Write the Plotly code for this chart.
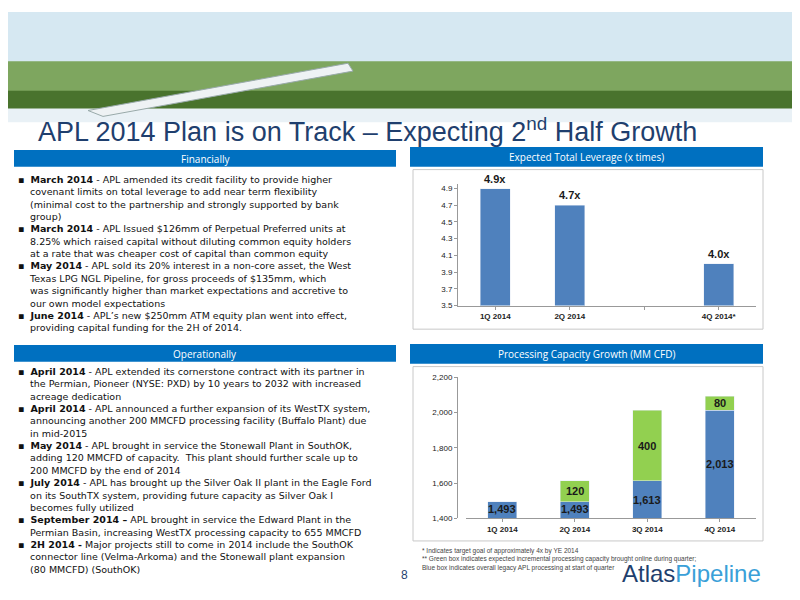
import plotly.graph_objects as go

lev_cats = ["1Q 2014", "2Q 2014", " ", "4Q 2014*"]
lev_vals = [4.9, 4.7, None, 4.0]
lev_labels = ["4.9x", "4.7x", "", "4.0x"]

cap_cats = ["1Q 2014", "2Q 2014", "3Q 2014", "4Q 2014"]
cap_base = [1493, 1493, 1613, 2013]
cap_incr = [0, 120, 400, 80]

W, H = 800, 600
def px(x): return x / W
def py(y): return 1 - y / H

BLUE = "#4f81bd"
GREEN = "#92d050"
HDR = "#0070c0"

fig = go.Figure()
fig.add_trace(go.Bar(x=lev_cats, y=lev_vals, marker_color=BLUE, width=0.4,
                     xaxis="x", yaxis="y", showlegend=False))
fig.add_trace(go.Bar(x=cap_cats, y=cap_base, marker_color=BLUE, width=0.4,
                     xaxis="x2", yaxis="y2", showlegend=False))
fig.add_trace(go.Bar(x=cap_cats, y=[v if v else None for v in cap_incr], marker_color=GREEN, width=0.4,
                     xaxis="x2", yaxis="y2", showlegend=False))

axfont = dict(size=8, color="#222", family="Liberation Sans")
fig.update_layout(
    width=W, height=H, margin=dict(l=0, r=0, t=0, b=0),
    paper_bgcolor="white", plot_bgcolor="white", barmode="stack",
    font=dict(family="Liberation Sans"),
    xaxis=dict(domain=[px(450), px(748)], anchor="y", tickfont=axfont, tickprefix="<b>", ticksuffix="</b>",
               showline=True, linecolor="#999", ticks="outside", ticklen=3, tickcolor="#999"),
    yaxis=dict(domain=[py(298), py(175)], range=[3.5, 4.95], tickvals=[3.5,3.7,3.9,4.1,4.3,4.5,4.7,4.9],
               tickformat=".1f", tickfont=axfont, tickprefix="<b>", ticksuffix="</b>", showgrid=False, showline=True, linecolor="#999",
               ticks="outside", ticklen=3, tickcolor="#999"),
    xaxis2=dict(domain=[px(458), px(748)], anchor="y2", tickfont=axfont, tickprefix="<b>", ticksuffix="</b>",
                showline=True, linecolor="#999", ticks="outside", ticklen=3, tickcolor="#999"),
    yaxis2=dict(domain=[py(514), py(371)], range=[1400, 2200], tickvals=[1400,1600,1800,2000,2200],
                tickformat=",", tickfont=axfont, tickprefix="<b>", ticksuffix="</b>", showgrid=False, showline=True, linecolor="#999",
                ticks="outside", ticklen=3, tickcolor="#999"),
)

shapes = []
shapes.append(dict(type="rect", xref="paper", yref="paper", x0=0, x1=1, y0=py(100), y1=1,
                   fillcolor="#d6e8f2", line_width=0, layer="below"))
shapes.append(dict(type="rect", xref="paper", yref="paper", x0=0, x1=1, y0=py(100), y1=py(50),
                   fillcolor="#6f9a45", line_width=0, layer="below", opacity=0.85))
shapes.append(dict(type="rect", xref="paper", yref="paper", x0=0, x1=1, y0=py(100), y1=py(80),
                   fillcolor="#3f6a25", line_width=0, layer="below", opacity=0.85))
shapes.append(dict(type="rect", xref="paper", yref="paper", x0=0, x1=1, y0=py(112), y1=py(98),
                   fillcolor="#e9f1f6", line_width=0, layer="below"))
shapes.append(dict(type="path", xref="paper", yref="paper",
                   path=f"M {px(80)},{py(100)} L {px(340)},{py(52)} L {px(345)},{py(60)} L {px(95)},{py(106)} Z",
                   fillcolor="#eef2f4", line=dict(color="#9aa", width=1), layer="below"))
for x0, x1, y0, y1 in [(6, 388, 140, 157), (6, 388, 338, 355), (402, 755, 137, 157), (402, 755, 337, 357)]:
    shapes.append(dict(type="rect", xref="paper", yref="paper", x0=px(x0), x1=px(x1), y0=py(y1), y1=py(y0),
                       fillcolor=HDR, line_width=0))
for x0, x1, y0, y1 in [(405, 755, 160, 322), (405, 755, 360, 537)]:
    shapes.append(dict(type="rect", xref="paper", yref="paper", x0=px(x0), x1=px(x1), y0=py(y1), y1=py(y0),
                       line=dict(color="#c8c8c8", width=1), fillcolor="rgba(0,0,0,0)"))
fig.update_layout(shapes=shapes)

ann = []
def A(x, y, text, size=11, color="#111", xanchor="left", yanchor="top", align="left", family="Liberation Sans"):
    ann.append(dict(xref="paper", yref="paper", x=px(x), y=py(y), text=text, showarrow=False,
                    font=dict(size=size, color=color, family=family), xanchor=xanchor, yanchor=yanchor, align=align))

lbl = dict(size=11, color="#1a1a1a", family="Liberation Sans")
for c, v, t in zip(lev_cats, lev_vals, lev_labels):
    if v is not None:
        ann.append(dict(xref="x", yref="y", x=c, y=v, text=f"<b>{t}</b>", showarrow=False,
                        yanchor="bottom", yshift=2, font=lbl))
for c, b, inc in zip(cap_cats, cap_base, cap_incr):
    base_y = b - 40 if b - 1400 < 150 else (1400 + b) / 2
    ann.append(dict(xref="x2", yref="y2", x=c, y=base_y, text=f"<b>{b:,}</b>", showarrow=False,
                    yanchor="middle", font=lbl))
    if inc:
        ann.append(dict(xref="x2", yref="y2", x=c, y=b + inc / 2, text=f"<b>{inc}</b>", showarrow=False,
                        yanchor="middle", font=lbl))

A(28, 120, "APL 2014 Plan is on Track – Expecting 2<sup>nd</sup> Half Growth", size=27, color="#1f3f6e", yanchor="middle")
A(197, 149, "Financially", size=10, color="white", xanchor="center", yanchor="middle", family="Open Sans")
A(197, 347, "Operationally", size=10, color="white", xanchor="center", yanchor="middle", family="Open Sans")
A(578, 147, "Expected Total Leverage (x times)", size=10, color="white", xanchor="center", yanchor="middle", family="Open Sans")
A(578, 347, "Processing Capacity Growth (MM CFD)", size=10, color="white", xanchor="center", yanchor="middle", family="Open Sans")

IND = "&nbsp;&nbsp;&nbsp;&nbsp;"
B = "▪&nbsp;&nbsp;"
fin_lines = [
    B + "<b>March 2014</b> - APL amended its credit facility to provide higher",
    IND + "covenant limits on total leverage to add near term flexibility",
    IND + "(minimal cost to the partnership and strongly supported by bank",
    IND + "group)",
    B + "<b>March 2014</b> - APL Issued $126mm of Perpetual Preferred units at",
    IND + "8.25% which raised capital without diluting common equity holders",
    IND + "at a rate that was cheaper cost of capital than common equity",
    B + "<b>May 2014</b> - APL sold its 20% interest in a non-core asset, the West",
    IND + "Texas LPG NGL Pipeline, for gross proceeds of $135mm, which",
    IND + "was significantly higher than market expectations and accretive to",
    IND + "our own model expectations",
    B + "<b>June 2014</b> - APL’s new $250mm ATM equity plan went into effect,",
    IND + "providing capital funding for the 2H of 2014.",
]
A(8, 162, "<br>".join(fin_lines), size=9.5, family="DejaVu Sans")
ops_lines = [
    B + "<b>April 2014</b> - APL extended its cornerstone contract with its partner in",
    IND + "the Permian, Pioneer (NYSE: PXD) by 10 years to 2032 with increased",
    IND + "acreage dedication",
    B + "<b>April 2014</b> - APL announced a further expansion of its WestTX system,",
    IND + "announcing another 200 MMCFD processing facility (Buffalo Plant) due",
    IND + "in mid-2015",
    B + "<b>May 2014</b> - APL brought in service the Stonewall Plant in SouthOK,",
    IND + "adding 120 MMCFD of capacity.  This plant should further scale up to",
    IND + "200 MMCFD by the end of 2014",
    B + "<b>July 2014</b> - APL has brought up the Silver Oak II plant in the Eagle Ford",
    IND + "on its SouthTX system, providing future capacity as Silver Oak I",
    IND + "becomes fully utilized",
    B + "<b>September 2014 –</b> APL brought in service the Edward Plant in the",
    IND + "Permian Basin, increasing WestTX processing capacity to 655 MMCFD",
    B + "<b>2H 2014 -</b> Major projects still to come in 2014 include the SouthOK",
    IND + "connector line (Velma-Arkoma) and the Stonewall plant expansion",
    IND + "(80 MMCFD) (SouthOK)",
]
A(8, 357, "<br>".join(ops_lines), size=9.5, family="DejaVu Sans")

A(412, 541, "* Indicates target goal of approximately 4x by YE 2014<br>"
            "** Green box indicates expected incremental processing capacity brought online during quarter;<br>"
            "Blue box indicates overall legacy APL processing at start of quarter", size=6.5, color="#444")
A(396, 572, "8", size=12, color="#1f3f6e", xanchor="center", yanchor="middle")
A(612, 570, "<span style='color:#1f3f6e'>Atlas</span><span style='color:#3aa0d8'>Pipeline</span>",
  size=24, yanchor="middle")
fig.update_layout(annotations=ann)

fig.write_html("out.html")
